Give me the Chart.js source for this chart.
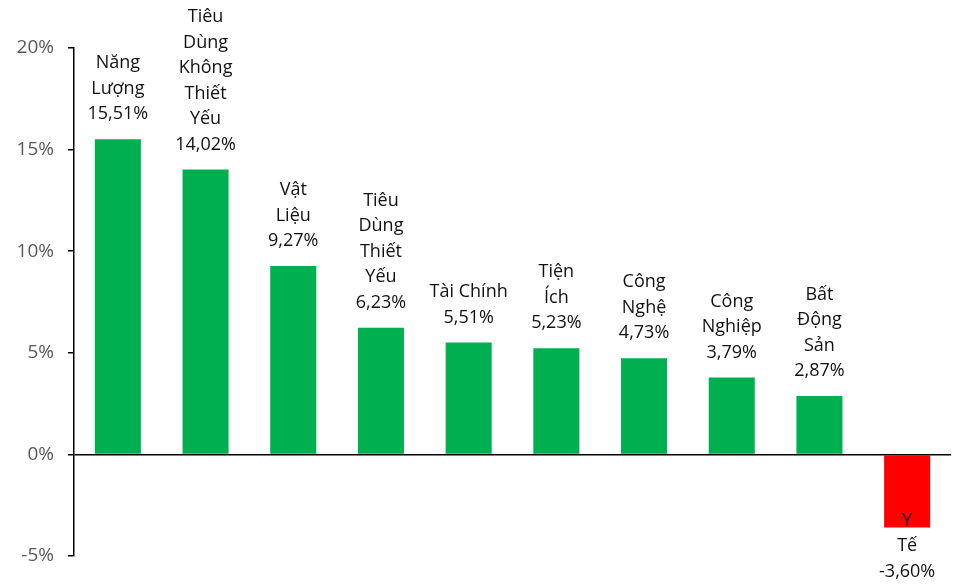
<!DOCTYPE html>
<html lang="vi">
<head>
<meta charset="UTF-8">
<title>Tăng trưởng theo ngành</title>
<script src="https://cdn.jsdelivr.net/npm/chart.js@4.4.6/dist/chart.umd.min.js"></script>
<style>
  html, body { margin: 0; padding: 0; background: #fff; }
  #wrap { width: 954px; height: 584px; position: relative; }
</style>
</head>
<body>
<div id="wrap"><canvas id="chart"></canvas></div>
<script>
// sector names, one entry per line of the label
const sectors = [
  ['Năng', 'Lượng'],
  ['Tiêu', 'Dùng', 'Không', 'Thiết', 'Yếu'],
  ['Vật', 'Liệu'],
  ['Tiêu', 'Dùng', 'Thiết', 'Yếu'],
  ['Tài Chính'],
  ['Tiện', 'Ích'],
  ['Công', 'Nghệ'],
  ['Công', 'Nghiệp'],
  ['Bất', 'Động', 'Sản'],
  ['Y', 'Tế'],
];
const returns = [15.51, 14.02, 9.27, 6.23, 5.51, 5.23, 4.73, 3.79, 2.87, -3.60];
const yTicks = [-5, 0, 5, 10, 15, 20];

const FONT = '"Open Sans", "Noto Sans", sans-serif';
const LINE_H = 25.5;

const fmtPct = v => v.toFixed(2).replace('.', ',') + '%';

// stacked labels: name lines then value, above positive bars / below negative ones
const barLabels = {
  id: 'barLabels',
  afterDatasetsDraw(chart) {
    const { ctx } = chart;
    const meta = chart.getDatasetMeta(0);
    ctx.save();
    ctx.font = '18px ' + FONT;
    ctx.fillStyle = '#111';
    ctx.textAlign = 'center';
    ctx.textBaseline = 'middle';
    meta.data.forEach((bar, i) => {
      const v = returns[i];
      const lines = [...sectors[i], fmtPct(v)];
      if (v >= 0) {
        const last = bar.y - 25;
        lines.forEach((t, k) => {
          ctx.fillText(t, bar.x, last - (lines.length - 1 - k) * LINE_H);
        });
      } else {
        const first = bar.y - 7;
        lines.forEach((t, k) => ctx.fillText(t, bar.x, first + k * LINE_H));
      }
    });
    ctx.restore();
  },
};

new Chart(document.getElementById('chart'), {
  type: 'bar',
  data: {
    labels: sectors,
    datasets: [{
      data: returns,
      backgroundColor: returns.map(v => v < 0 ? '#ff0000' : '#00b050'),
      borderWidth: 0,
      barPercentage: 0.525,
      categoryPercentage: 1,
    }],
  },
  options: {
    responsive: true,
    maintainAspectRatio: false,
    animation: false,
    layout: { padding: { top: 48, bottom: 28, left: 0, right: 3 } },
    plugins: { legend: { display: false }, tooltip: { enabled: false } },
    scales: {
      x: { display: false },
      y: {
        min: -5,
        max: 20,
        afterBuildTicks: axis => { axis.ticks = yTicks.map(value => ({ value })); },
        afterFit: axis => { axis.width = 74; },
        ticks: {
          color: '#595959',
          font: { family: FONT, size: 19 },
          padding: 14,
          callback: v => v + '%',
        },
        grid: {
          color: c => c.tick && c.tick.value === 0 ? '#000' : 'transparent',
          tickColor: '#000',
          tickLength: 6,
          lineWidth: 1.5,
        },
        border: { color: '#000', width: 1.5 },
      },
    },
  },
  plugins: [barLabels],
});
</script>
</body>
</html>
